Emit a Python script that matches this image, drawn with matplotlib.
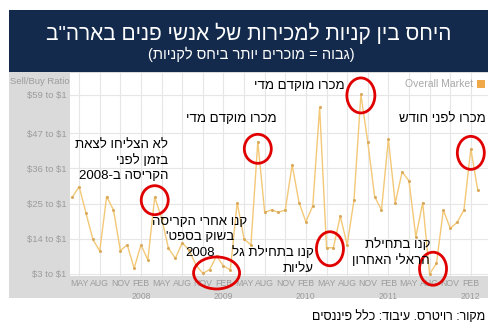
import re
import numpy as np
import pandas as pd
import matplotlib
matplotlib.use('Agg')
import matplotlib.pyplot as plt
from matplotlib.patches import Rectangle, Ellipse

# monthly sell/buy ratio, Apr 2007 .. Mar 2012
months = pd.date_range('2007-04-01', periods=60, freq='MS')
ratio = [27.0, 30.3, 22.0, 13.8, 10.2, 27.2, 23.0, 10.3, 12.1, 4.8,
         12.1, 7.4, 27.0, 20.5, 11.0, 7.9, 12.7, 10.5, 5.8, 3.2,
         4.4, 8.6, 5.5, 4.3, 25.3, 13.9, 12.1, 44.3, 22.3, 23.0,
         22.3, 23.0, 37.1, 25.3, 19.3, 24.3, 55.1, 11.2, 11.2, 21.1,
         12.1, 26.1, 59.1, 44.3, 27.2, 23.0, 45.1, 25.1, 34.9, 32.1,
         14.6, 25.3, 3.0, 6.3, 23.0, 17.3, 19.1, 23.0, 42.1, 29.3]
yticks = [3, 14, 25, 36, 47, 59]
ytick_labels = ['\\$%d to \\$1' % v for v in yticks]

title = 'היחס בין קניות למכירות של אנשי פנים בארה"ב'
subtitle = '(גבוה = מוכרים יותר ביחס לקניות)'
source = 'מקור: רויטרס. עיבוד: כלל פיננסים'

# circled months: (first index, last index, width px, height px, y shift px)
circles = [(12, 12, 27, 29, 3), (19, 23, 46, 32, 6), (27, 27, 27, 29, 7),
           (42, 42, 28, 35, 1), (37, 38, 27, 34, 1), (52, 53, 27, 33, 0),
           (58, 58, 27, 33, 4)]

# note text lines, anchor x px, first line y px, alignment
notes = [(['לא הצליחו לצאת', 'בזמן לפני', 'הקריסה ב-2008'], 168, 145, 'right'),
         (['מכרו מוקדם מדי'], 277, 119, 'right'),
         (['מכרו מוקדם מדי'], 345, 86, 'right'),
         (['מכרו לפני חודש'], 486, 119, 'right'),
         (['קנו אחרי הקריסה', "בשוק בספט'", '2008'], 200, 222, 'center'),
         (['קנו בתחילת גל', 'עליות'], 314, 253, 'right'),
         (['קנו בתחילת', 'הראלי האחרון'], 430, 245, 'right')]


def vis(s):
    # hebrew logical -> visual order for left-to-right drawing
    r = s[::-1]
    r = re.sub(r'\d+', lambda m: m.group(0)[::-1], r)
    return r.translate(str.maketrans('()', ')('))


W, H = 496, 328
def fx(px):
    return px / W
def fy(py):
    return 1 - py / H

heb = ['Liberation Sans', 'DejaVu Sans']
narrow = ['Liberation Sans', 'DejaVu Sans']
grey = '#9c9c9c'

fig = plt.figure(figsize=(W / 100, H / 100), dpi=100)
fig.patch.set_facecolor('white')
fig.add_artist(Rectangle((fx(9), fy(298)), 479 / W, 228 / H, transform=fig.transFigure,
                         facecolor='#dadada', edgecolor='none', zorder=0))
fig.add_artist(Rectangle((fx(9), fy(72)), 479 / W, 62 / H, transform=fig.transFigure,
                         facecolor='#132a4c', edgecolor='none', zorder=0))
fig.text(fx(249), fy(33), vis(title), ha='center', va='center', color='white',
         fontsize=15, family=heb)
fig.text(fx(251), fy(54), vis(subtitle), ha='center', va='center', color='white',
         fontsize=10.5, family=heb)

ax = fig.add_axes([fx(70), fy(276), 418 / W, 203 / H])
ax.set_xlim(-0.33, 60.5)
ax.set_ylim(2.375, 65.8)
ax.set_facecolor('white')
for s in ax.spines.values():
    s.set_visible(False)

x = np.arange(len(ratio))
ax.plot(x, ratio, color='#f3c877', lw=1.0, zorder=3)
ax.plot(x, ratio, 'o', ms=2.2, color='#d9aa5c', mec='none', zorder=4)

tick_idx = [i for i, m in enumerate(months) if m.month in (2, 5, 8, 11)]
tick_lab = []
for i in tick_idx:
    m = months[i]
    lab = m.strftime('%b').upper()
    if m.month == 2:
        lab += '\n' + str(m.year)
    tick_lab.append(lab)
ax.set_xticks(tick_idx)
ax.set_xticklabels(tick_lab, fontsize=6.3, color=grey, family=narrow,
                   va='top', linespacing=1.5)
ax.set_yticks(yticks)
ax.set_yticklabels(ytick_labels, fontsize=6.8, color=grey, family=narrow)
ax.tick_params(length=0, pad=2.5)
ax.grid(True, color='#e6e6e6', lw=0.8, zorder=0)
ax.set_axisbelow(True)

fig.text(fx(10), fy(81), 'Sell/Buy Ratio', ha='left', va='center', fontsize=6.8,
         color=grey, family=narrow)
fig.text(fx(473), fy(84), 'Overall Market', ha='right', va='center', fontsize=7.5,
         color='#a8a8a8', family=narrow)
fig.add_artist(Rectangle((fx(477), fy(88)), 8 / W, 8 / H, transform=fig.transFigure,
                         facecolor='#f0a848', edgecolor='none'))

px_x = 418 / (60.5 + 0.33)
px_y = 203 / (65.8 - 2.375)
for a, b, w, h, dy in circles:
    cx = (a + b) / 2
    cy = np.mean(ratio[a:b + 1]) - dy / px_y
    ax.add_patch(Ellipse((cx, cy), w / px_x, h / px_y, fill=False, edgecolor='#e00000',
                         lw=2.0, zorder=5, clip_on=False))

for lines, xp, yp, ha in notes:
    for k, line in enumerate(lines):
        fig.text(fx(xp), fy(yp + 15.5 * k), vis(line), ha=ha, va='center',
                 fontsize=9.5, color='black', family=heb, zorder=6)

fig.text(fx(485), fy(317), vis(source), ha='right', va='center', fontsize=9,
         color='black', family=heb)

fig.savefig('out.png', dpi=100)
